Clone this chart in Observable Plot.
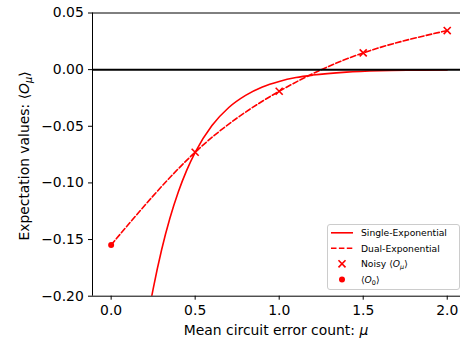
<!DOCTYPE html>
<html><head><meta charset="utf-8">
<script src="https://cdn.jsdelivr.net/npm/d3@7"></script>
<script src="https://cdn.jsdelivr.net/npm/@observablehq/plot@0.6"></script>
<style>body{margin:0;background:#fff;} svg{display:block}</style>
</head><body><div id="chart"></div>
<script>
// ---- data ----
const noisyMu = [0.5, 1.0, 1.5, 2.0];
const noisyVal = [-0.0729, -0.0191, 0.0148, 0.0345];
const zeroMu = [0.0];
const zeroVal = [-0.1547];
const singleMu = [0.24, 0.25, 0.3, 0.35, 0.4, 0.45, 0.5, 0.6, 0.7, 0.8, 0.9, 1.0, 1.1, 1.2, 1.4, 1.6, 1.8, 2.0];
const singleVal = [-0.2012, -0.1935, -0.1592, -0.1310, -0.1078, -0.0887, -0.0730, -0.0494, -0.0334, -0.0227, -0.0153, -0.0104, -0.0070, -0.0048, -0.0022, -0.0010, -0.0005, -0.0002];
const dualMu = [0.0, 0.5, 1.0, 1.5, 2.0];
const dualVal = [-0.1547, -0.0729, -0.0191, 0.0148, 0.0345];
const xTicks = [0, 0.5, 1.0, 1.5, 2.0];
const yTicks = [-0.20, -0.15, -0.10, -0.05, 0.00, 0.05];
const xDomain = [-0.111, 2.079];
const yDomain = [-0.20, 0.05];
const legendLabels = [
  [{t:"Single-Exponential"}],
  [{t:"Dual-Exponential"}],
  [{t:"Noisy \u27E8"},{t:"O",i:true},{t:"\u03BC",i:true,sub:true},{t:"\u27E9"}],
  [{t:"\u27E8"},{t:"O",i:true},{t:"0",sub:true},{t:"\u27E9"}]
];
const xLabel = [{t:"Mean circuit error count: "},{t:"\u03BC",i:true}];
const yLabel = [{t:"Expectation values: \u27E8"},{t:"O",i:true},{t:"\u03BC",i:true,sub:true},{t:"\u27E9"}];

const single = singleMu.map((m,i)=>({mu:m, v:singleVal[i]}));
const dual = dualMu.map((m,i)=>({mu:m, v:dualVal[i]}));
const noisy = noisyMu.map((m,i)=>({mu:m, v:noisyVal[i]}));
const zero = zeroMu.map((m,i)=>({mu:m, v:zeroVal[i]}));

const RED = "#ff0000";
const FONT = "DejaVu Sans";

const svg = Plot.plot({
  width: 460, height: 341,
  marginLeft: 92, marginRight: 0, marginTop: 12.5, marginBottom: 45.3,
  style: {fontFamily: FONT, fontSize: "13.9px", color: "black", background: "white", overflow: "visible"},
  x: {domain: xDomain},
  y: {domain: yDomain},
  marks: [
    Plot.line(single, {x:"mu", y:"v", stroke:RED, strokeWidth:1.6, curve:"monotone-x", clip:true}),
    Plot.line(dual, {x:"mu", y:"v", stroke:RED, strokeWidth:1.6, curve:"natural", strokeDasharray:"5.5,2.4", clip:true}),
    Plot.ruleY([0], {stroke:"black", strokeWidth:2}),
    Plot.dot(noisy, {x:"mu", y:"v", symbol:"times", r:3.3, stroke:RED, strokeWidth:1.6}),
    Plot.dot(zero, {x:"mu", y:"v", r:3, fill:RED}),
    Plot.ruleY([yDomain[0], yDomain[1]], {stroke:"black", strokeWidth:1}),
    Plot.ruleX([xDomain[0]], {stroke:"black", strokeWidth:1}),
    Plot.axisX({ticks: xTicks, tickFormat: d3.format(".1f"), tickSize: 4, tickPadding: 4.5, label: null, fontSize: 13.9}),
    Plot.axisY({ticks: yTicks, tickFormat: d3.format(".2f"), tickSize: 4, tickPadding: 4.7, label: null, fontSize: 13.9})
  ]
});
document.getElementById("chart").appendChild(svg);

function mathText(sel, parts, size) {
  let prevSub = false;
  parts.forEach(p => {
    const ts = sel.append("tspan").text(p.t);
    if (p.i) ts.attr("font-style", "italic");
    if (p.sub) { ts.attr("font-size", size*0.7).attr("dy", size*0.22); prevSub = true; }
    else if (prevSub) { ts.attr("dy", -size*0.22); prevSub = false; }
  });
}

const s = d3.select(svg);
// axis labels
const xl = s.append("text").attr("x", 276).attr("y", 335).attr("text-anchor","middle")
  .attr("font-family", FONT).attr("font-size", 13.9).attr("fill","black");
mathText(xl, xLabel, 13.9);
const yl = s.append("text").attr("transform","translate(28.5,156) rotate(-90)").attr("text-anchor","middle")
  .attr("font-family", FONT).attr("font-size", 13.9).attr("fill","black");
mathText(yl, yLabel, 13.9);

// legend
const lg = s.append("g").attr("transform","translate(327.5,224.5)").attr("text-anchor","start");
lg.append("rect").attr("width",132).attr("height",65).attr("rx",2.5)
  .attr("fill","white").attr("fill-opacity",0.8).attr("stroke","#cccccc").attr("stroke-width",1);
const rowY = [8.3, 23.8, 39.3, 55.0];
const fs = 9.2;
legendLabels.forEach((parts, k) => {
  const y = rowY[k];
  if (k === 0) lg.append("line").attr("x1",3.5).attr("x2",25.5).attr("y1",y).attr("y2",y).attr("stroke",RED).attr("stroke-width",1.6);
  if (k === 1) lg.append("line").attr("x1",3.5).attr("x2",25.5).attr("y1",y).attr("y2",y).attr("stroke",RED).attr("stroke-width",1.6).attr("stroke-dasharray","5.5,2.4");
  if (k === 2) lg.append("path").attr("d", d3.symbol(d3.symbolTimes, Math.PI*3.3*3.3)()).attr("transform",`translate(14.5,${y})`).attr("stroke",RED).attr("stroke-width",1.6).attr("fill","none");
  if (k === 3) lg.append("circle").attr("cx",14.5).attr("cy",y).attr("r",3).attr("fill",RED);
  const t = lg.append("text").attr("x",33.5).attr("y",y).attr("dy","0.35em").attr("text-anchor","start")
    .attr("font-family",FONT).attr("font-size",fs).attr("fill","black");
  mathText(t, parts, fs);
});
</script>
</body></html>
